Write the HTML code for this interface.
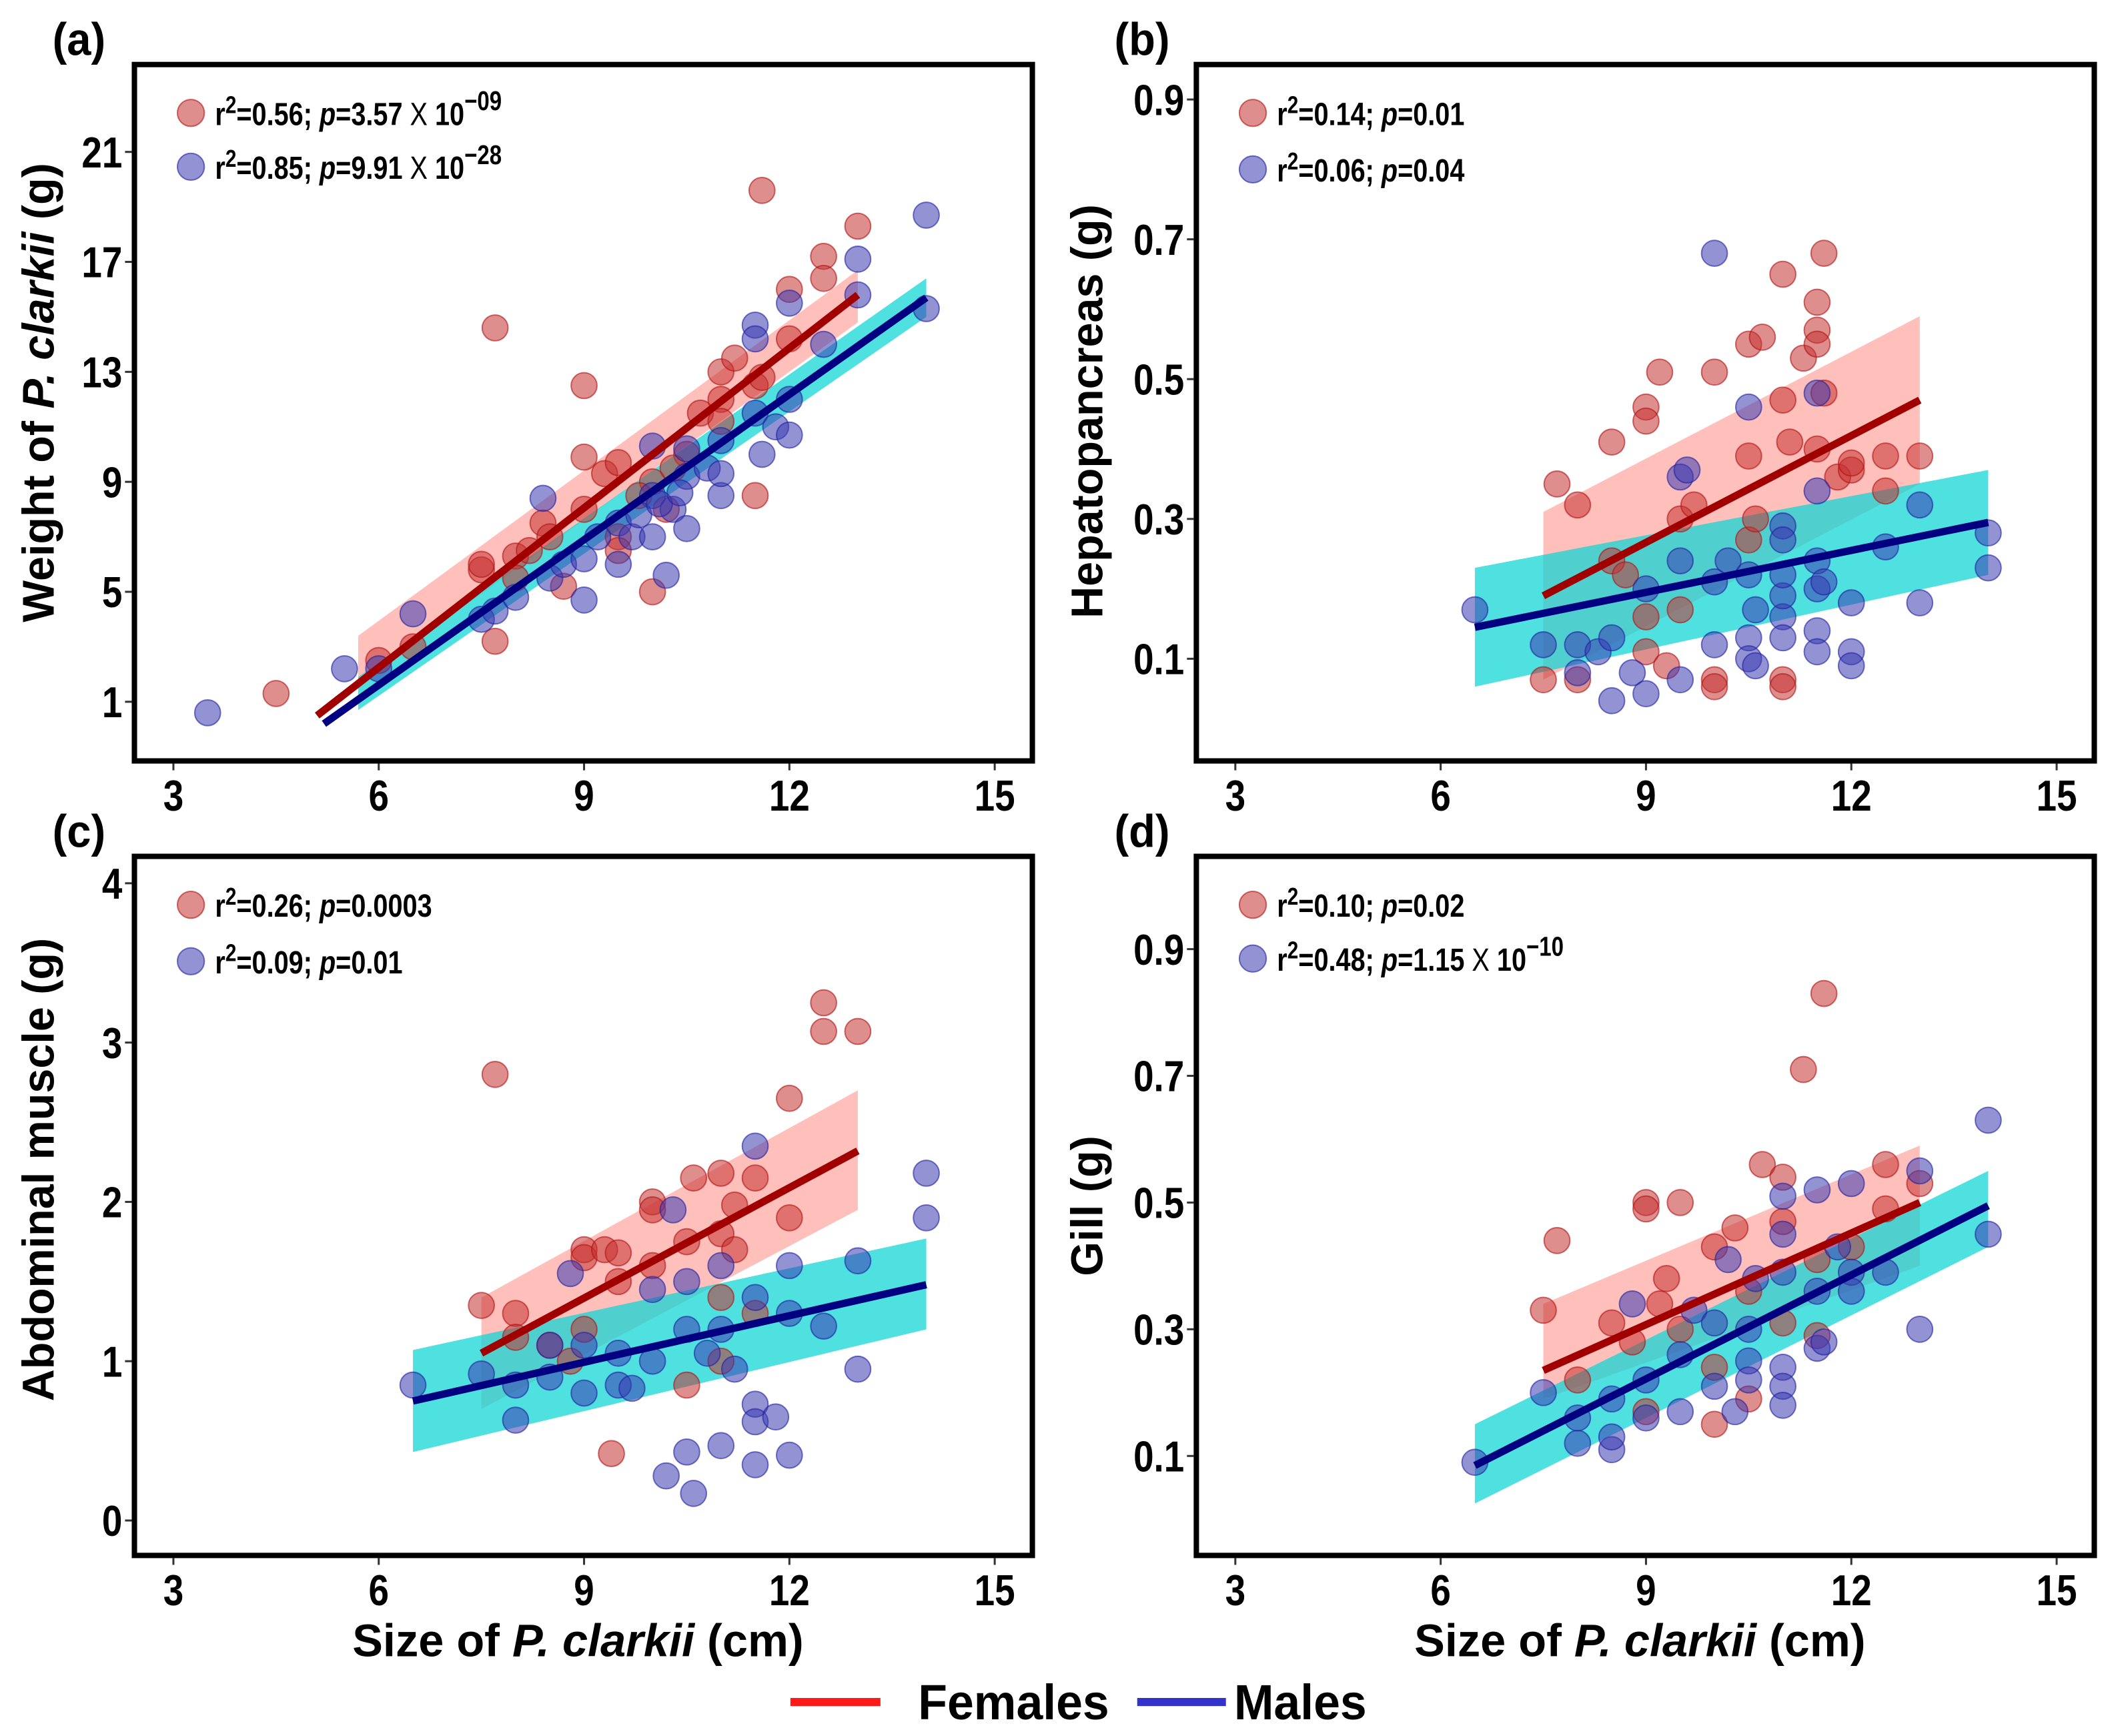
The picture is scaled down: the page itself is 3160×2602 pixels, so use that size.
<!DOCTYPE html>
<html><head><meta charset="utf-8">
<style>
html,body{margin:0;padding:0;background:#fff;}
svg{display:block;}
text{font-family:"Liberation Sans",sans-serif;font-weight:bold;fill:#000;}
</style></head>
<body>
<svg id="fig" width="3160" height="2602" viewBox="0 0 1568.2 1291.3" preserveAspectRatio="none" xmlns="http://www.w3.org/2000/svg">
<rect x="0" y="0" width="1568.2" height="1291.3" fill="#fff"/>
</svg>
<script>
// ---------- data ----------
const xTicks = [3, 6, 9, 12, 15];
const aYTicks = [1, 5, 9, 13, 17, 21];
const bYTicks = [0.1, 0.3, 0.5, 0.7, 0.9];
const cYTicks = [0, 1, 2, 3, 4];
const dYTicks = [0.1, 0.3, 0.5, 0.7, 0.9];

const aFemX = [4.5,7.7,7.7,7.5,7.5,8,8,8.4,8.5,8.7,9,9,9,9.3,9.5,9.5,9.5,10,10,10.2,10.5,10.7,11,11,11,11.2,11.5,11.5,11.6,11.6,12,12,12.5,12.5,13,6,6.5,8.2,9.8,10.3];
const aFemY = [1.3,14.6,3.2,5.8,6,6.3,5.5,7.5,7,5.2,12.5,9.9,8,9.3,9.7,7,6.5,5,9,8,10,11.5,13,12,11.2,13.5,12.5,8.5,19.6,12.8,16,14.2,17.2,16.4,18.3,2.5,3,6.5,8.5,9.5];
const aMalX = [3.5,5.5,6,6.5,7.5,7.7,8,8.4,8.5,8.7,9,9,9.2,9.5,9.5,9.7,10,10,10,10.2,10.3,10.5,10.5,10.5,10.8,11,11,11,11.5,11.5,11.5,11.6,11.8,12,12,12,12.5,13,13,14,14,9.8,10.1,10.4];
const aMalY = [0.6,2.2,2.2,4.2,4,4.3,4.8,8.4,5.5,6,4.7,6.2,7,7.5,6,7,10.3,8.5,7,5.6,8,9.2,7.3,10.2,9.5,8.5,9.3,10.5,14.7,14.2,11.5,10,11,12,10.7,15.5,14,17.1,15.8,18.7,15.3,7.8,8.2,8.6];
const aFemFit = [5.1, 0.5, 13, 15.8];
const aFemBand = [5.7, 1.7, 3.4, 13, 14.8, 16.7];
const aMalFit = [5.2, 0.2, 14, 15.7];
const aMalBand = [5.7, 0.7, 1.9, 14, 15.0, 16.4];

const bFemX = [7.5,7.7,8,8,8.5,8.5,8.7,9,9,9,9,9.3,9.5,9.5,9.7,10,10,10,10.5,10.5,10.7,10.5,10.6,11,11,11,11,11.1,11.3,11.5,11.5,11.5,11.6,11.5,11.6,11.8,12,12,12.5,12.5,13,9.2];
const bFemY = [0.07,0.35,0.07,0.32,0.41,0.24,0.22,0.46,0.44,0.16,0.11,0.09,0.17,0.3,0.32,0.51,0.07,0.06,0.55,0.27,0.56,0.39,0.3,0.65,0.47,0.07,0.06,0.41,0.53,0.61,0.57,0.55,0.68,0.4,0.48,0.36,0.37,0.38,0.34,0.39,0.39,0.51];
const bMalX = [6.5,7.5,8,8,8.3,8.5,8.5,8.8,9,9,9.5,9.6,9.5,9.5,10,10,10,10.2,10.5,10.5,10.5,10.5,10.6,10.6,11,11,11,11,11,11,11.5,11.5,11.5,11.5,11.5,11.5,11.6,12,12,12,12.5,13,13,14,14];
const bMalY = [0.17,0.12,0.08,0.12,0.11,0.04,0.13,0.08,0.05,0.2,0.36,0.37,0.24,0.07,0.68,0.21,0.12,0.24,0.46,0.22,0.13,0.1,0.09,0.17,0.29,0.27,0.16,0.13,0.19,0.22,0.48,0.34,0.24,0.2,0.14,0.11,0.21,0.11,0.09,0.18,0.26,0.32,0.18,0.28,0.23];
const bFemFit = [7.5, 0.19, 13, 0.47];
const bFemBand = [7.5, 0.07, 0.31, 13, 0.35, 0.59];
const bMalFit = [6.5, 0.145, 14, 0.295];
const bMalBand = [6.5, 0.06, 0.23, 14, 0.22, 0.37];

const cFemX = [7.5,7.7,8,8,8.5,9,9,9,9.3,9.5,9.5,9.4,10,10,10,10.5,10.5,10.6,11,11,11,11,11.2,11.5,11.5,12,12,12.5,12.5,13,11.2,8.8];
const cFemY = [1.35,2.8,1.3,1.15,1.1,1.7,1.65,1.2,1.7,1.68,1.5,0.42,2.0,1.95,1.6,1.75,0.85,2.15,2.18,1.8,1.4,1.0,1.7,2.15,1.3,2.65,1.9,3.25,3.07,3.07,1.98,1.0];
const cMalX = [6.5,7.5,8,8,8.5,8.5,8.8,9,9,9.5,9.5,9.7,10,10,10.2,10.3,10.5,10.6,10.5,10.5,10.8,11,11,11,11.2,11.5,11.5,11.5,11.5,11.5,11.8,12,12,12,12.5,13,13,14,14];
const cMalY = [0.85,0.92,0.63,0.85,0.9,1.1,1.55,0.8,1.1,0.85,1.05,0.83,1.45,1.0,0.28,1.95,0.43,0.17,1.5,1.2,1.05,0.47,1.6,1.2,0.95,2.35,1.4,0.73,0.62,0.35,0.65,1.6,1.3,0.41,1.22,1.63,0.95,2.18,1.9];
const cFemFit = [7.5, 1.05, 13, 2.32];
const cFemBand = [7.5, 0.7, 1.4, 13, 1.95, 2.7];
const cMalFit = [6.5, 0.75, 14, 1.48];
const cMalBand = [6.5, 0.43, 1.07, 14, 1.2, 1.77];

const dFemX = [7.5,7.7,8,8.5,8.8,9,9,9,9.3,9.2,9.5,9.5,10,10,10,10.3,10.5,10.7,11,11,11,11.3,11.5,11.6,11.5,12,12.5,12.5,13,10.5];
const dFemY = [0.33,0.44,0.22,0.31,0.28,0.5,0.49,0.17,0.38,0.34,0.5,0.3,0.43,0.24,0.15,0.46,0.19,0.56,0.54,0.47,0.31,0.71,0.29,0.83,0.41,0.43,0.56,0.49,0.53,0.36];
const dMalX = [6.5,7.5,8,8,8.5,8.5,8.5,8.8,9,9,9.5,9.5,9.7,10,10,10.2,10.3,10.5,10.5,10.5,10.6,11,11,11,11,11,11,11.5,11.5,11.5,11.6,11.8,12,12,12,12.5,13,13,14,14];
const dMalY = [0.09,0.2,0.12,0.16,0.11,0.13,0.19,0.34,0.16,0.22,0.17,0.26,0.33,0.21,0.31,0.41,0.17,0.25,0.22,0.3,0.38,0.51,0.45,0.24,0.21,0.18,0.39,0.52,0.36,0.27,0.28,0.43,0.53,0.39,0.36,0.39,0.55,0.3,0.63,0.45];
const dFemFit = [7.5, 0.235, 13, 0.5];
const dFemBand = [7.5, 0.19, 0.34, 13, 0.4, 0.59];
const dMalFit = [6.5, 0.085, 14, 0.495];
const dMalBand = [6.5, 0.025, 0.15, 14, 0.43, 0.55];

// ---------- drawing ----------
const NS = "http://www.w3.org/2000/svg";
const svg = document.getElementById('fig');
function mk(tag, attrs, parent){
  const e = document.createElementNS(NS, tag);
  for (const k in attrs) e.setAttribute(k, attrs[k]);
  (parent||svg).appendChild(e);
  return e;
}
function linScale(d0,d1,r0,r1){ return v => r0 + (v-d0)/(d1-d0)*(r1-r0); }
function ntext(x, y, size, anchor, parent, sx){
  return mk('text', {x: 0, y: 0, 'font-size': size, 'text-anchor': anchor, transform: `translate(${x},${y}) scale(${sx||0.8},1)`}, parent);
}

function panel(cfg){
  const g = mk('g', {});
  
  
  const X = linScale(3, 15, cfg.x3, cfg.x15);
  const Y = linScale(cfg.yT[0], cfg.yT[cfg.yT.length-1], cfg.yFirst, cfg.yLast);
  function band(b, fill, op, nm){
    const p = mk('polygon', {points: `${X(b[0])},${Y(b[1])} ${X(b[3])},${Y(b[4])} ${X(b[3])},${Y(b[5])} ${X(b[0])},${Y(b[2])}`, fill: fill, 'fill-opacity': op}, g);
    
    
  }
  band(cfg.fb, '#ff9d96', 0.65, 'female-confidence-band');
  band(cfg.mb, '#14d6d6', 0.75, 'male-confidence-band');
  function pts(xs, ys, fill, stroke, nm){
    for (let i=0;i<xs.length;i++){
      const c = mk('circle', {cx: X(xs[i]), cy: Y(ys[i]), r: 9.6, fill: fill, 'fill-opacity': 0.55, stroke: stroke, 'stroke-opacity': 0.6, 'stroke-width': 1}, g);
      
      
    }
  }
  pts(cfg.fx, cfg.fy, '#c53232', '#b01010', 'female-point');
  pts(cfg.mx, cfg.my, '#3a3ab0', '#2020a0', 'male-point');
  function fit(f, col, nm){
    const l = mk('line', {x1: X(f[0]), y1: Y(f[1]), x2: X(f[2]), y2: Y(f[3]), stroke: col, 'stroke-width': 5.5}, g);
    
    
  }
  fit(cfg.ff, '#a00000', 'female-fit-line');
  fit(cfg.mf, '#000080', 'male-fit-line');
  const fr = mk('rect', {x: cfg.l, y: cfg.t, width: cfg.r-cfg.l, height: cfg.b-cfg.t, fill: 'none', stroke: '#000', 'stroke-width': 4}, g);
  
  
  xTicks.forEach(v => {
    const tk = mk('line', {x1: X(v), x2: X(v), y1: cfg.b+2, y2: cfg.b+7, stroke: '#333', 'stroke-width': 1.5}, g);
    
    
    const t = ntext(X(v), cfg.b+37, 32, 'middle', g, 0.85);
    t.textContent = v;
    
    
  });
  cfg.yT.forEach(v => {
    const tk = mk('line', {x1: cfg.l-7, x2: cfg.l-2, y1: Y(v), y2: Y(v), stroke: '#333', 'stroke-width': 1.5}, g);
    
    
    const t = ntext(cfg.l-9, Y(v)+11.5, 32, 'end', g, 0.85);
    t.textContent = v;
    
    
  });
  const pl = ntext(cfg.l-61, cfg.t-7, 34, 'start', g, 0.95);
  pl.textContent = cfg.letter;
  
  
  const yt = mk('text', {x: 0, y: 0, 'font-size': 33, 'text-anchor': 'middle', transform: `translate(${cfg.ytx},${cfg.yty}) rotate(-90)`}, g);
  yt.innerHTML = cfg.ytitle;
  
  
  cfg.leg.forEach((L, i) => {
    const ly = cfg.t + 36 + i*cfg.legGap;
    const c = mk('circle', {cx: cfg.l+42, cy: ly, r: 10, fill: i==0?'#c53232':'#3a3ab0', 'fill-opacity': 0.55, stroke: i==0?'#b01010':'#2020a0', 'stroke-opacity': 0.6}, g);
    
    
    const t = ntext(cfg.l+60, ly+9, 24, 'start', g, 0.82);
    t.innerHTML = L;
    
    
  });
  if (cfg.xtitle){
    const xt = mk('text', {x: (cfg.l+cfg.r)/2-4, y: 1232, 'font-size': 34, 'text-anchor': 'middle'}, g);
    xt.innerHTML = 'Size of <tspan font-style="italic">P. clarkii</tspan> (cm)';
    
    
  }
}
function st(r, p, exp){
  let s = `r<tspan dy="-9" font-size="18">2</tspan><tspan dy="9">=${r}; </tspan><tspan font-style="italic">p</tspan>=${p}`;
  if (exp) s += ` <tspan font-weight="normal">X</tspan> 10<tspan dy="-11" font-size="20">−${exp}</tspan>`;
  return s;
}
panel({name:'panel-a', letter:'(a)', l:100, r:768, t:48, b:566, x3:129, x15:740, yT:aYTicks, yFirst:522, yLast:113,
  fx:aFemX, fy:aFemY, mx:aMalX, my:aMalY, ff:aFemFit, fb:aFemBand, mf:aMalFit, mb:aMalBand,
  ytx:40, yty:292, ytitle:'Weight of <tspan font-style="italic">P. clarkii</tspan> (g)',
  leg:[st('0.56','3.57','09'), st('0.85','9.91','28')], legGap:40});
panel({name:'panel-b', letter:'(b)', l:890, r:1558, t:48, b:566, x3:919, x15:1530, yT:bYTicks, yFirst:490, yLast:74,
  fx:bFemX, fy:bFemY, mx:bMalX, my:bMalY, ff:bFemFit, fb:bFemBand, mf:bMalFit, mb:bMalBand,
  ytx:820, yty:306, ytitle:'Hepatopancreas (g)',
  leg:[st('0.14','0.01'), st('0.06','0.04')], legGap:42});
panel({name:'panel-c', letter:'(c)', l:100, r:768, t:637, b:1157, x3:129, x15:740, yT:cYTicks, yFirst:1131, yLast:657,
  fx:cFemX, fy:cFemY, mx:cMalX, my:cMalY, ff:cFemFit, fb:cFemBand, mf:cMalFit, mb:cMalBand,
  ytx:40, yty:870, ytitle:'Abdominal muscle (g)', xtitle:true,
  leg:[st('0.26','0.0003'), st('0.09','0.01')], legGap:42});
panel({name:'panel-d', letter:'(d)', l:890, r:1558, t:637, b:1157, x3:919, x15:1530, yT:dYTicks, yFirst:1083, yLast:706,
  fx:dFemX, fy:dFemY, mx:dMalX, my:dMalY, ff:dFemFit, fb:dFemBand, mf:dMalFit, mb:dMalBand,
  ytx:820, yty:897, ytitle:'Gill (g)', xtitle:true,
  leg:[st('0.10','0.02'), st('0.48','1.15','10')], legGap:40});

const lg = mk('g', {});


const l1 = mk('line', {x1:588, x2:655, y1:1266, y2:1266, stroke:'#ff1a1a', 'stroke-width':6}, lg);


const t1 = ntext(683, 1279, 37, 'start', lg, 0.96);
t1.textContent = 'Females';


const l2 = mk('line', {x1:846, x2:912, y1:1266, y2:1266, stroke:'#3333cc', 'stroke-width':6}, lg);


const t2 = ntext(918, 1279, 37, 'start', lg, 0.96);
t2.textContent = 'Males';


</script>
</body></html>
